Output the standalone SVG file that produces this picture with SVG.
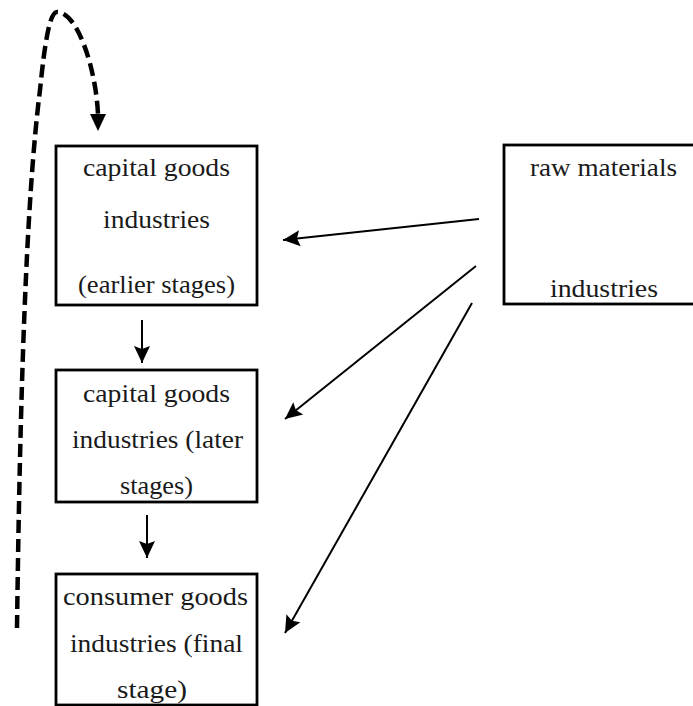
<svg xmlns="http://www.w3.org/2000/svg" width="693" height="706" viewBox="0 0 693 706">
<style>
.box{fill:#fff;stroke:#000;stroke-width:2.8}
.t{font-family:"Liberation Serif",serif;font-size:25px;fill:#1a1a1a;text-anchor:middle}
.arr{fill:none;stroke:#000;stroke-width:2}
.dash{fill:none;stroke:#000;stroke-width:4.5;stroke-dasharray:13 6}
</style>
<defs>
<marker id="ah" markerUnits="userSpaceOnUse" markerWidth="18" markerHeight="18" viewBox="0 0 18 18" refX="17" refY="9" orient="auto">
<path d="M0,1 L17,9 L0,17 L3,9 Z" fill="#000"/>
</marker>
</defs>
<rect width="693" height="706" fill="#fff"/>
<g id="connectors">
<path class="dash" d="M17,628 C20,400 26,200 40,90 C45,40 50,12 57,12 C78,12 96,70 98,114"/>
<path d="M90,114 L106,114 L98,131 Z" fill="#000"/>
<line class="arr" x1="142" y1="320" x2="142" y2="363" marker-end="url(#ah)"/>
<line class="arr" x1="147" y1="515" x2="147" y2="558" marker-end="url(#ah)"/>
<line class="arr" x1="479" y1="219" x2="283" y2="240" marker-end="url(#ah)"/>
<line class="arr" x1="476" y1="266" x2="285" y2="419" marker-end="url(#ah)"/>
<line class="arr" x1="472" y1="303" x2="285" y2="633" marker-end="url(#ah)"/>
</g>
<g id="node-capital-early">
<rect class="box" x="56" y="146" width="201" height="159"/>
<text class="t" x="156.5" y="176" textLength="147" lengthAdjust="spacingAndGlyphs">capital goods</text>
<text class="t" x="156.5" y="228" textLength="107" lengthAdjust="spacingAndGlyphs">industries</text>
<text class="t" x="156.5" y="293" textLength="157" lengthAdjust="spacingAndGlyphs">(earlier stages)</text>
</g>
<g id="node-capital-later">
<rect class="box" x="56" y="370" width="201" height="132"/>
<text class="t" x="156.5" y="402" textLength="147" lengthAdjust="spacingAndGlyphs">capital goods</text>
<text class="t" x="157.5" y="448" textLength="171" lengthAdjust="spacingAndGlyphs">industries (later</text>
<text class="t" x="156.5" y="494" textLength="73" lengthAdjust="spacingAndGlyphs">stages)</text>
</g>
<g id="node-consumer">
<rect class="box" x="56" y="574" width="201" height="131"/>
<text class="t" x="155.5" y="605" textLength="185" lengthAdjust="spacingAndGlyphs">consumer goods</text>
<text class="t" x="156.5" y="652" textLength="173" lengthAdjust="spacingAndGlyphs">industries (final</text>
<text class="t" x="152" y="698" textLength="70" lengthAdjust="spacingAndGlyphs">stage)</text>
</g>
<g id="node-raw">
<rect class="box" x="504" y="145" width="200" height="159"/>
<text class="t" x="603.5" y="176" textLength="147" lengthAdjust="spacingAndGlyphs">raw materials</text>
<text class="t" x="604" y="297" textLength="108" lengthAdjust="spacingAndGlyphs">industries</text>
</g>
</svg>
